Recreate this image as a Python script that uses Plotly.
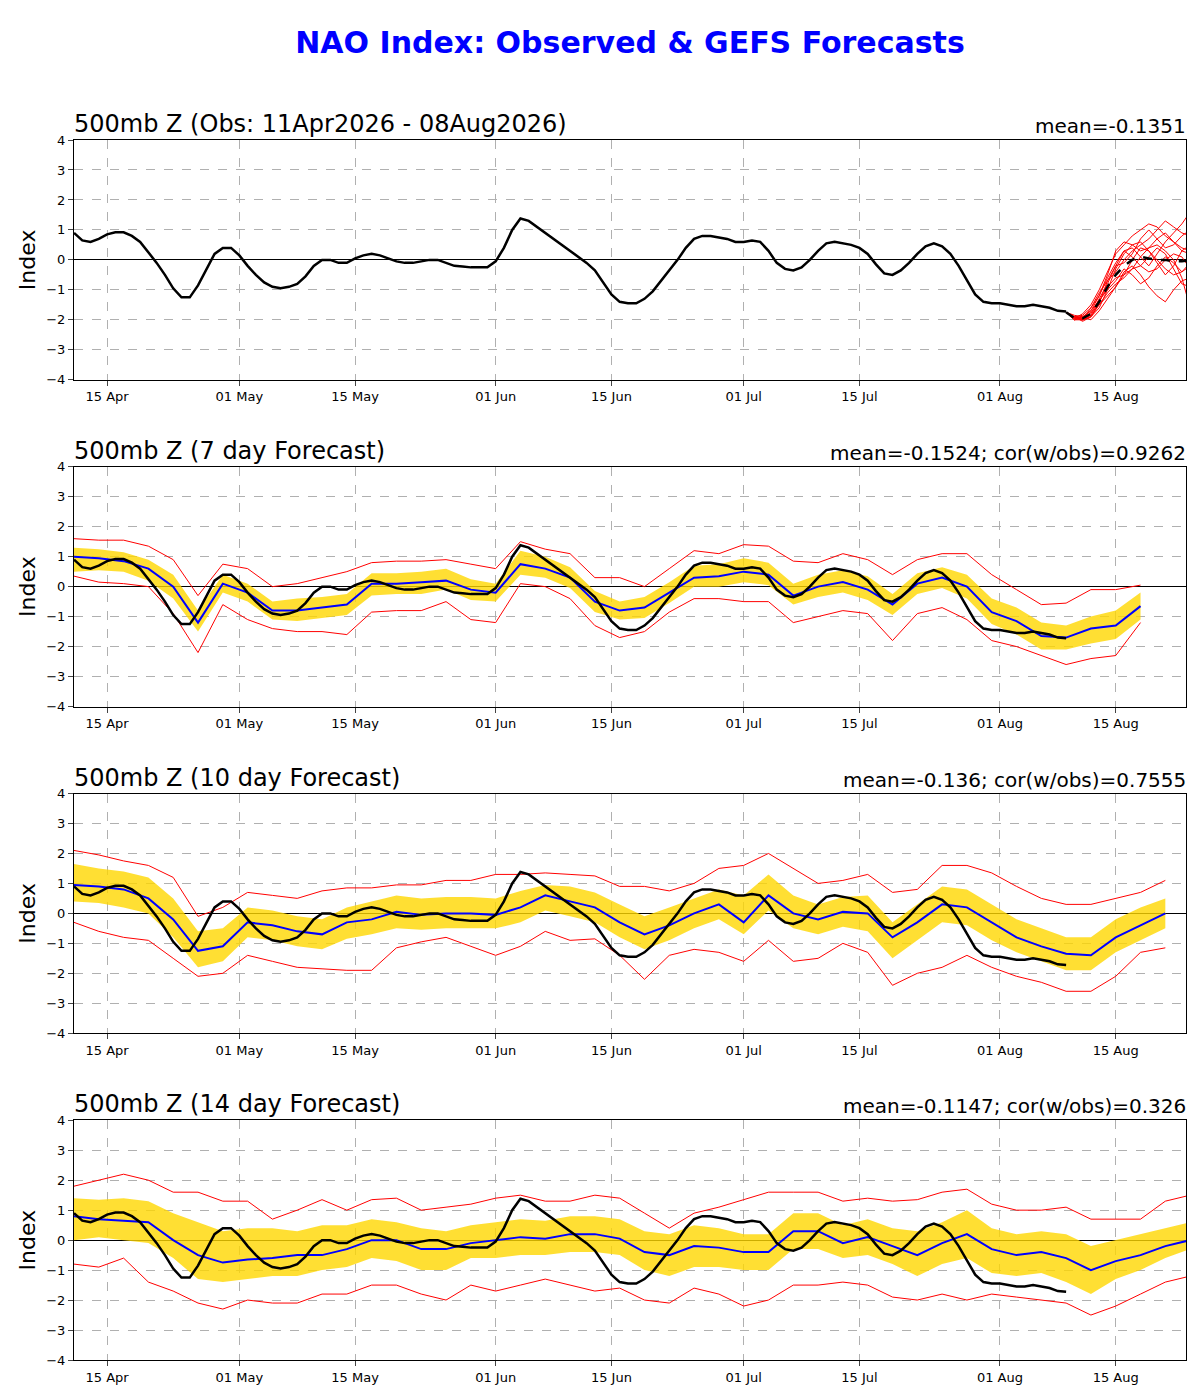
import datetime as dt
import plotly.graph_objects as go
from plotly.subplots import make_subplots

start = dt.date(2026, 4, 11)
obs = [0.9,0.65,0.6,0.7,0.85,0.92,0.92,0.8,0.6,0.25,-0.1,-0.5,-0.95,-1.25,-1.25,-0.85,-0.3,0.2,0.4,0.4,
       0.15,-0.2,-0.5,-0.75,-0.9,-0.95,-0.9,-0.8,-0.55,-0.2,0.0,0.0,-0.1,-0.1,0.05,0.15,0.2,0.15,0.05,-0.05,
       -0.1,-0.1,-0.05,0.0,0.0,-0.1,-0.2,-0.22,-0.25,-0.25,-0.25,-0.05,0.4,1.0,1.38,1.3,1.1,0.9,0.7,0.5,
       0.3,0.1,-0.1,-0.35,-0.75,-1.15,-1.4,-1.45,-1.45,-1.3,-1.05,-0.7,-0.35,0.0,0.4,0.7,0.8,0.8,0.75,0.7,
       0.6,0.6,0.65,0.6,0.3,-0.1,-0.3,-0.35,-0.25,0.0,0.3,0.55,0.6,0.55,0.5,0.4,0.2,-0.15,-0.45,-0.5,
       -0.35,-0.1,0.2,0.45,0.55,0.45,0.2,-0.2,-0.7,-1.15,-1.4,-1.45,-1.45,-1.5,-1.55,-1.55,-1.5,-1.55,-1.6,-1.7,-1.72]
obs_dates = [start + dt.timedelta(days=i) for i in range(len(obs))]

ens_start = dt.date(2026, 8, 9)
ens_mean = [-1.75,-1.95,-1.95,-1.8,-1.4,-0.9,-0.5,-0.2,0.0,0.1,0.05,0.0,0.0,-0.05,-0.05,0.0]
members = [
    [-1.75,-1.9,-2.0,-1.9,-1.6,-1.0,-0.3,0.2,0.5,0.6,0.3,0.0,-0.3,-0.5,-0.4,-0.2],
    [-1.75,-2.0,-1.9,-1.7,-1.2,-0.6,-0.1,0.3,0.4,0.1,-0.2,0.2,0.6,0.9,1.2,1.6],
    [-1.75,-1.9,-2.05,-1.9,-1.5,-1.1,-0.8,-0.6,-0.3,0.1,0.4,0.5,0.3,0.0,-0.6,-1.6],
    [-1.75,-1.95,-1.8,-1.5,-1.0,-0.4,0.2,0.5,0.8,1.0,1.2,1.1,0.8,0.6,0.4,0.3],
    [-1.75,-1.85,-1.9,-2.0,-1.7,-1.3,-0.9,-0.4,-0.2,-0.5,-0.9,-1.2,-1.4,-1.0,-0.7,-0.6],
    [-1.75,-2.0,-2.0,-1.6,-1.1,-0.7,-0.4,0.0,0.3,0.5,0.7,1.0,1.3,1.1,0.9,0.8],
    [-1.75,-1.9,-1.95,-1.8,-1.3,-0.8,-0.2,0.3,0.1,-0.2,-0.4,-0.3,0.0,0.2,0.1,-0.3],
    [-1.75,-1.95,-2.0,-1.85,-1.4,-0.9,-0.6,-0.5,-0.3,-0.2,0.1,0.4,0.2,-0.3,-0.8,-0.9],
    [-1.75,-1.9,-1.85,-1.6,-1.2,-0.5,0.3,0.6,0.5,0.3,0.4,0.7,0.9,0.6,0.3,0.2],
    [-1.75,-2.0,-1.95,-1.75,-1.5,-1.2,-0.9,-0.5,0.0,0.4,0.3,-0.1,-0.5,-0.2,0.3,0.5],
    [-1.75,-1.9,-2.0,-1.9,-1.45,-0.7,-0.2,-0.1,0.2,0.7,1.0,0.7,0.4,0.5,0.8,1.0],
    [-1.75,-1.95,-1.9,-1.7,-1.35,-1.0,-0.7,-0.3,-0.5,-0.8,-0.6,-0.2,0.1,-0.1,-0.4,-0.1],
]
ens_dates = [ens_start + dt.timedelta(days=i) for i in range(len(ens_mean))]

# forecast panels: values every 3 days from 11 Apr
f7_mean = [1.0,0.95,0.85,0.6,0.0,-1.2,0.1,-0.2,-0.8,-0.8,-0.7,-0.6,0.1,0.1,0.15,0.2,-0.1,-0.2,0.75,0.6,0.3,-0.5,-0.8,-0.7,-0.2,0.3,0.35,0.5,0.4,-0.3,0.0,0.15,-0.1,-0.6,0.1,0.3,0.0,-0.85,-1.15,-1.65,-1.7,-1.4,-1.3,-0.65]
f7_blo = [0.5,0.55,0.5,0.2,-0.4,-1.5,-0.2,-0.5,-1.1,-1.15,-1.05,-0.95,-0.3,-0.25,-0.25,-0.1,-0.45,-0.5,0.4,0.3,-0.05,-0.85,-1.1,-1.05,-0.55,0.0,0.0,0.15,0.05,-0.6,-0.35,-0.2,-0.45,-0.95,-0.25,-0.05,-0.4,-1.25,-1.6,-2.1,-2.1,-1.9,-1.75,-1.1]
f7_bhi = [1.3,1.25,1.15,0.9,0.4,-0.8,0.4,0.1,-0.5,-0.4,-0.35,-0.25,0.45,0.45,0.5,0.6,0.25,0.1,1.2,1.0,0.65,-0.15,-0.5,-0.35,0.15,0.7,0.75,0.95,0.8,0.1,0.4,0.55,0.35,-0.25,0.45,0.65,0.4,-0.4,-0.7,-1.2,-1.3,-1.0,-0.8,-0.2]
f7_rlo = [0.35,0.15,0.1,0.0,-0.9,-2.2,-0.6,-1.1,-1.4,-1.5,-1.5,-1.6,-0.85,-0.8,-0.8,-0.5,-1.1,-1.2,0.1,0.0,-0.4,-1.3,-1.7,-1.5,-0.85,-0.4,-0.4,-0.5,-0.5,-1.2,-1.0,-0.8,-0.9,-1.8,-0.9,-0.7,-1.1,-1.8,-2.0,-2.3,-2.6,-2.4,-2.3,-1.2]
f7_rhi = [1.6,1.55,1.55,1.35,0.9,-0.3,0.75,0.6,0.0,0.1,0.3,0.5,0.8,0.85,0.85,0.9,0.75,0.6,1.5,1.25,1.1,0.3,0.3,0.0,0.6,1.2,1.1,1.4,1.35,0.85,0.8,1.1,0.9,0.4,0.9,1.1,1.1,0.4,-0.1,-0.6,-0.55,-0.1,-0.1,0.05]

f10_mean = [0.95,0.9,0.8,0.5,-0.2,-1.25,-1.1,-0.3,-0.4,-0.6,-0.7,-0.3,-0.2,0.05,-0.05,0.0,0.0,-0.05,0.2,0.6,0.4,0.2,-0.3,-0.7,-0.4,0.0,0.3,-0.3,0.6,0.0,-0.2,0.05,0.0,-0.8,-0.3,0.3,0.2,-0.3,-0.8,-1.1,-1.35,-1.4,-0.8,-0.4,0.0]
f10_blo = [0.4,0.35,0.2,0.0,-0.8,-1.8,-1.6,-0.8,-0.9,-1.1,-1.2,-0.85,-0.7,-0.5,-0.55,-0.5,-0.5,-0.5,-0.3,0.1,-0.1,-0.3,-0.8,-1.2,-0.9,-0.5,-0.2,-0.7,0.1,-0.5,-0.7,-0.45,-0.6,-1.5,-0.9,-0.3,-0.4,-0.9,-1.3,-1.6,-1.9,-1.9,-1.3,-0.9,-0.5]
f10_bhi = [1.65,1.5,1.4,1.2,0.5,-0.6,-0.5,0.2,0.1,-0.1,-0.2,0.2,0.4,0.6,0.5,0.55,0.55,0.5,0.75,0.95,0.9,0.7,0.3,-0.1,0.2,0.5,0.8,0.6,1.3,0.6,0.3,0.55,0.6,-0.3,0.3,0.9,0.8,0.3,-0.2,-0.5,-0.8,-0.8,-0.2,0.2,0.5]
f10_rlo = [-0.3,-0.6,-0.8,-0.9,-1.5,-2.1,-2.0,-1.4,-1.6,-1.8,-1.85,-1.9,-1.9,-1.15,-0.95,-0.8,-1.1,-1.4,-1.1,-0.6,-0.9,-0.85,-1.4,-2.2,-1.4,-1.2,-1.3,-1.6,-0.9,-1.6,-1.5,-1.0,-1.3,-2.4,-2.0,-1.8,-1.4,-1.8,-2.1,-2.3,-2.6,-2.6,-2.1,-1.3,-1.15]
f10_rhi = [2.1,1.95,1.75,1.6,1.2,-0.1,0.2,0.7,0.6,0.5,0.75,0.85,0.85,0.95,0.95,1.1,1.1,1.3,1.3,1.35,1.3,1.25,0.9,0.9,0.75,1.0,1.5,1.6,2.0,1.5,1.0,1.1,1.3,0.7,0.8,1.6,1.6,1.35,0.9,0.5,0.3,0.3,0.5,0.7,1.1]

f14_mean = [0.8,0.7,0.65,0.6,0.0,-0.5,-0.75,-0.65,-0.6,-0.5,-0.5,-0.3,0.0,0.0,-0.3,-0.3,-0.1,0.0,0.1,0.05,0.2,0.2,0.05,-0.4,-0.5,-0.2,-0.25,-0.4,-0.4,0.3,0.3,-0.1,0.1,-0.2,-0.5,-0.1,0.2,-0.3,-0.5,-0.4,-0.6,-1.0,-0.7,-0.5,-0.2,0.0]
f14_blo = [0.0,0.1,0.0,-0.1,-0.6,-1.3,-1.4,-1.3,-1.2,-1.2,-1.0,-0.9,-0.6,-0.7,-1.0,-1.0,-0.6,-0.6,-0.5,-0.5,-0.4,-0.4,-0.5,-1.0,-1.2,-0.9,-0.9,-1.0,-1.0,-0.3,-0.3,-0.6,-0.5,-0.8,-1.2,-0.8,-0.6,-1.1,-1.2,-1.1,-1.4,-1.8,-1.3,-1.0,-0.6,-0.3]
f14_bhi = [1.4,1.35,1.4,1.3,0.9,0.6,0.3,0.4,0.4,0.3,0.5,0.5,0.7,0.6,0.4,0.3,0.5,0.6,0.7,0.65,0.8,0.8,0.7,0.3,0.2,0.5,0.4,0.2,0.2,0.9,0.9,0.5,0.7,0.4,0.3,0.6,1.0,0.4,0.2,0.3,0.2,-0.2,0.0,0.2,0.4,0.6]
f14_rlo = [-0.8,-0.9,-0.6,-1.4,-1.7,-2.1,-2.3,-2.0,-2.1,-2.1,-1.8,-1.8,-1.5,-1.5,-1.8,-2.0,-1.5,-1.7,-1.5,-1.3,-1.5,-1.7,-1.6,-2.0,-2.1,-1.6,-1.8,-2.2,-2.0,-1.5,-1.5,-1.4,-1.5,-1.9,-2.0,-1.8,-2.0,-1.8,-1.9,-2.0,-2.1,-2.5,-2.2,-1.8,-1.4,-1.2]
f14_rhi = [1.8,2.0,2.2,2.0,1.6,1.6,1.3,1.3,0.7,1.0,1.35,1.0,1.35,1.4,1.0,1.1,1.2,1.4,1.5,1.3,1.3,1.5,1.4,0.9,0.4,0.9,1.1,1.35,1.6,1.6,1.6,1.3,1.4,1.3,1.35,1.6,1.7,1.2,1.0,1.0,1.1,0.7,0.7,0.7,1.3,1.5]

titles = ["500mb Z (Obs: 11Apr2026 - 08Aug2026)", "500mb Z (7 day Forecast)",
          "500mb Z (10 day Forecast)", "500mb Z (14 day Forecast)"]
stats = ["mean=-0.1351", "mean=-0.1524; cor(w/obs)=0.9262",
         "mean=-0.136; cor(w/obs)=0.7555", "mean=-0.1147; cor(w/obs)=0.326"]

fig = make_subplots(rows=4, cols=1, vertical_spacing=87/1220)

def d3(n):
    return [start + dt.timedelta(days=3 * i) for i in range(n)]

for m in members:
    fig.add_trace(go.Scatter(x=ens_dates, y=m, mode="lines", line=dict(color="red", width=1)), row=1, col=1)
fig.add_trace(go.Scatter(x=obs_dates, y=obs, mode="lines", line=dict(color="black", width=2.5)), row=1, col=1)
fig.add_trace(go.Scatter(x=ens_dates, y=ens_mean, mode="lines", line=dict(color="black", width=2.5, dash="dash")), row=1, col=1)

panels = [(f7_mean, f7_blo, f7_bhi, f7_rlo, f7_rhi),
          (f10_mean, f10_blo, f10_bhi, f10_rlo, f10_rhi),
          (f14_mean, f14_blo, f14_bhi, f14_rlo, f14_rhi)]
for k, (mn, blo, bhi, rlo, rhi) in enumerate(panels):
    r = k + 2
    d = d3(len(mn))
    fig.add_trace(go.Scatter(x=d, y=blo, mode="lines", line=dict(width=0), hoverinfo="skip"), row=r, col=1)
    fig.add_trace(go.Scatter(x=d, y=bhi, mode="lines", line=dict(width=0), fill="tonexty",
                             fillcolor="rgba(255,215,0,0.8)"), row=r, col=1)
    fig.add_trace(go.Scatter(x=d, y=rlo, mode="lines", line=dict(color="red", width=1)), row=r, col=1)
    fig.add_trace(go.Scatter(x=d, y=rhi, mode="lines", line=dict(color="red", width=1)), row=r, col=1)
    fig.add_trace(go.Scatter(x=d, y=mn, mode="lines", line=dict(color="blue", width=2)), row=r, col=1)
    fig.add_trace(go.Scatter(x=obs_dates, y=obs, mode="lines", line=dict(color="black", width=2.5)), row=r, col=1)

tickvals = [dt.date(2026, m, dd) for m in (4, 5, 6, 7, 8) for dd in (1, 15) if not (m == 4 and dd == 1)]
for r in range(1, 5):
    fig.update_xaxes(row=r, col=1, range=[dt.datetime(2026, 4, 11), dt.datetime(2026, 8, 23, 12)],
                     tickvals=tickvals, tickformat="%d %b", showgrid=True, gridcolor="#b0b0b0",
                     griddash="dash", showline=True, linecolor="black", mirror=True,
                     ticks="outside", tickfont=dict(size=13, color="black"), zeroline=False)
    fig.update_yaxes(row=r, col=1, range=[-4, 4], dtick=1, showgrid=True, gridcolor="#b0b0b0",
                     griddash="dash", showline=True, linecolor="black", mirror=True,
                     ticks="outside", tickfont=dict(size=13, color="black"),
                     zeroline=True, zerolinecolor="black", zerolinewidth=1,
                     title=dict(text="Index", font=dict(size=22, color="black"), standoff=4))

for r in range(1, 5):
    yd = fig.layout["yaxis" + ("" if r == 1 else str(r))].domain
    fig.add_annotation(text=titles[r - 1], xref="paper", yref="paper", x=0, y=yd[1], xanchor="left",
                       yanchor="bottom", showarrow=False, font=dict(size=24, color="black"), xshift=-2)
    fig.add_annotation(text=stats[r - 1], xref="paper", yref="paper", x=1, y=yd[1], xanchor="right",
                       yanchor="bottom", showarrow=False, font=dict(size=20, color="black"), xshift=2)

fig.update_layout(width=1200, height=1400, showlegend=False, plot_bgcolor="white", paper_bgcolor="white",
                  margin=dict(l=66, r=22, t=132, b=48),
                  font=dict(family="DejaVu Sans"),
                  title=dict(text="<b>NAO Index: Observed & GEFS Forecasts</b>", x=0.5, xref="paper",
                             y=1 - 34 / 1400, yref="container", yanchor="middle", xanchor="center",
                             font=dict(size=30, color="blue")))
fig.write_html("out.html")
